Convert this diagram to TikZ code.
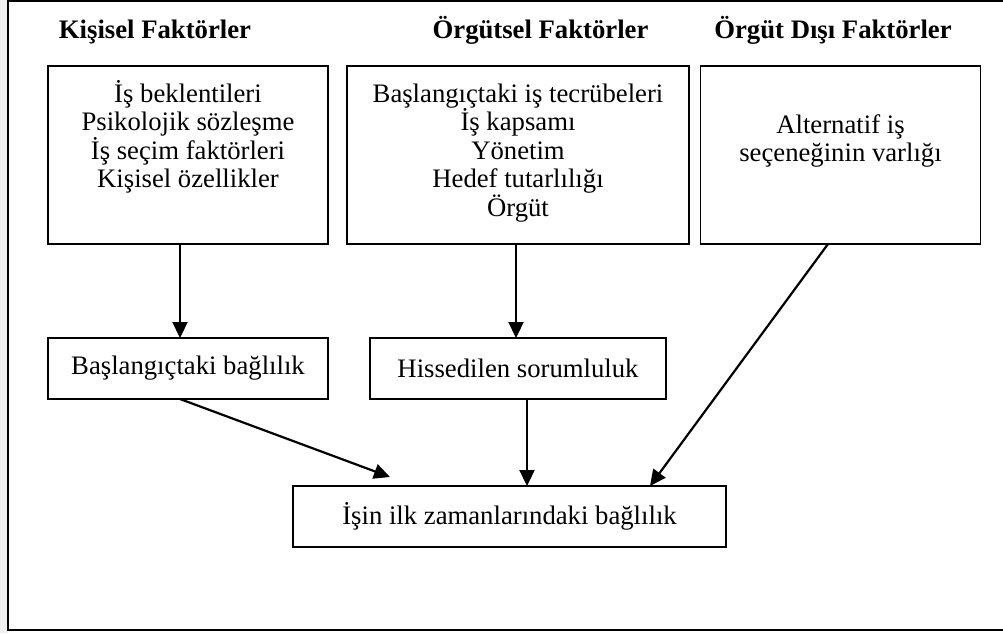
\documentclass[tikz,border=0pt]{standalone}
\usepackage{fontspec}
\setmainfont{Liberation Serif}
\usetikzlibrary{arrows.meta}

\begin{document}
\begin{tikzpicture}[x=1pt,y=-1pt,
  every node/.style={inner sep=0pt, outer sep=0pt},
  txt/.style={font=\fontsize{26.7}{28.5}\selectfont, align=center},
  head/.style={font=\fontsize{26.7}{28.5}\selectfont\bfseries},
  box/.style={draw=black, line width=1.6pt},
  arr/.style={line width=2.2pt, -{Triangle[length=16pt,width=15pt]}}]

  % canvas and outer frame (its right side runs past the page edge)
  \useasboundingbox (0,0) rectangle (1003,633);
  \fill[black!6] (0,0) rectangle (8,633);
  \clip (0,0) rectangle (1003,633);
  \draw[line width=2.6pt] (8,1) rectangle (1010,630);

  % column headings
  \node[head, anchor=base] (h1) at (155,38) {Kişisel Faktörler};
  \node[head, anchor=base] (h2) at (540.5,38) {Örgütsel Faktörler};
  \node[head, anchor=base] (h3) at (833,38) {Örgüt Dışı Faktörler};

  % factor boxes
  \node[box, minimum width=280, minimum height=178] (b1) at (188,155) {};
  \node[box, minimum width=342, minimum height=178] (b2) at (518,155) {};
  \node[box, minimum width=280, minimum height=178] (b3) at (840.5,155) {};

  % box contents (anchored on the baseline of their last line)
  \node[txt, anchor=base] (t1) at (188,187.5)
    {İş beklentileri\\Psikolojik sözleşme\\İş seçim faktörleri\\Kişisel özellikler};
  \node[txt, anchor=base] (t2) at (518,216)
    {Başlangıçtaki iş tecrübeleri\\İş kapsamı\\Yönetim\\Hedef tutarlılığı\\Örgüt};
  \node[txt, anchor=base] (t3) at (840.5,161.5)
    {Alternatif iş\\seçeneğinin varlığı};

  % intermediate boxes
  \node[box, txt, minimum width=280, minimum height=61] (n1) at (188,368.5)
    {Başlangıçtaki bağlılık};
  \node[box, txt, minimum width=296, minimum height=61] (n2) at (518,368.5)
    {Hissedilen sorumluluk};

  % outcome box
  \node[box, txt, minimum width=433, minimum height=61] (m) at (509.5,516.5)
    {İşin ilk zamanlarındaki bağlılık};

  \coordinate (m1) at ([xshift=-119.5pt, yshift=9pt]m.north);

  % connectors
  \draw[arr] ([xshift=-8pt]b1.south) -- ([xshift=-8pt]n1.north);
  \draw[arr] ([xshift=-2pt]b2.south) -- ([xshift=-2pt]n2.north);
  \draw[arr] ([xshift=-8pt]n1.south) -- (m1);
  \draw[arr] ([xshift=9pt]n2.south) -- ([xshift=17.5pt]m.north);
  \draw[arr] ([xshift=-12.5pt]b3.south) -- ([xshift=140.5pt]m.north);
\end{tikzpicture}
\end{document}
